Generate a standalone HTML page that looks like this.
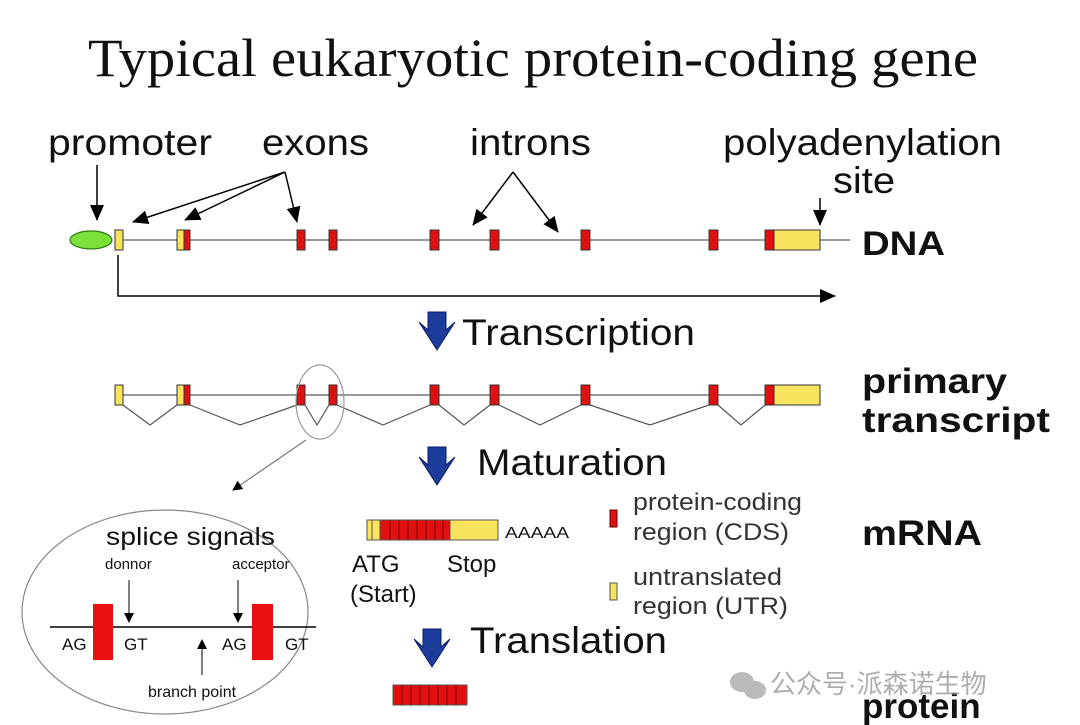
<!DOCTYPE html>
<html><head><meta charset="utf-8"><style>
body{margin:0;background:#fff;}
svg{display:block;}
text{font-family:"Liberation Sans",sans-serif;fill:#111;}
</style></head><body>
<svg width="1080" height="725" viewBox="0 0 1080 725">
<defs>
<marker id="a" markerWidth="10" markerHeight="10" refX="9" refY="5" orient="auto" markerUnits="userSpaceOnUse"><path d="M0,0 L10,5 L0,10 z" fill="#000"/></marker>
<marker id="b" markerWidth="16" markerHeight="14" refX="15" refY="7" orient="auto" markerUnits="userSpaceOnUse"><path d="M0,0 L16,7 L0,14 z" fill="#000"/></marker>
<g id="dn"><path d="M-9,-18 h18 v18 l9,-8 l-18,28 l-18,-28 l9,8 z" fill="#1c3c9c" stroke="#0a1d66" stroke-width="1"/></g>
</defs>
<text x="88" y="76" textLength="890" lengthAdjust="spacingAndGlyphs" style="font-family:'Liberation Serif',serif;font-size:54px">Typical eukaryotic protein-coding gene</text>
<text x="48" y="155" textLength="164" lengthAdjust="spacingAndGlyphs" style="font-size:37px">promoter</text>
<text x="262" y="155" textLength="107" lengthAdjust="spacingAndGlyphs" style="font-size:37px">exons</text>
<text x="470" y="155" textLength="121" lengthAdjust="spacingAndGlyphs" style="font-size:37px">introns</text>
<text x="723" y="155" textLength="279" lengthAdjust="spacingAndGlyphs" style="font-size:37px">polyadenylation</text>
<text x="833" y="193" textLength="62" lengthAdjust="spacingAndGlyphs" style="font-size:37px">site</text>
<g stroke="#000" stroke-width="1.5" fill="none">
<line x1="97" y1="165" x2="97" y2="220" marker-end="url(#b)"/>
<line x1="285" y1="172" x2="133" y2="222" marker-end="url(#b)"/>
<line x1="285" y1="172" x2="185" y2="220" marker-end="url(#b)"/>
<line x1="285" y1="172" x2="297" y2="222" marker-end="url(#b)"/>
<line x1="513" y1="172" x2="473" y2="225" marker-end="url(#b)"/>
<line x1="513" y1="172" x2="558" y2="232" marker-end="url(#b)"/>
<line x1="820" y1="198" x2="820" y2="225" marker-end="url(#b)"/>
</g>
<line x1="118" y1="240" x2="850" y2="240" stroke="#777" stroke-width="1.5"/>
<ellipse cx="91" cy="240" rx="21" ry="9" fill="#7be03a" stroke="#2f7a10" stroke-width="1.2"/>
<g stroke="#333" stroke-width="1">
<rect x="115" y="230" width="8" height="20" fill="#f7e35c"/>
<rect x="177" y="230" width="7" height="20" fill="#f7e35c"/>
<rect x="184" y="230" width="6" height="20" fill="#e01010"/>
<rect x="297" y="230" width="8" height="20" fill="#e01010"/>
<rect x="329" y="230" width="8" height="20" fill="#e01010"/>
<rect x="430" y="230" width="9" height="20" fill="#e01010"/>
<rect x="490" y="230" width="9" height="20" fill="#e01010"/>
<rect x="581" y="230" width="9" height="20" fill="#e01010"/>
<rect x="709" y="230" width="9" height="20" fill="#e01010"/>
<rect x="765" y="230" width="9" height="20" fill="#e01010"/>
<rect x="774" y="230" width="46" height="20" fill="#f7e35c"/>
</g>
<text x="862" y="255" textLength="83" lengthAdjust="spacingAndGlyphs" style="font-size:34px;font-weight:bold">DNA</text>
<polyline points="118,255 118,296 835,296" fill="none" stroke="#000" stroke-width="1.5" marker-end="url(#b)"/>
<use href="#dn" x="437" y="330"/>
<text x="462" y="345" textLength="233" lengthAdjust="spacingAndGlyphs" style="font-size:37px">Transcription</text>
<line x1="118" y1="395" x2="820" y2="395" stroke="#777" stroke-width="1.5"/>
<g fill="none" stroke="#555" stroke-width="1.2">
<polyline points="123,405 150,425 177,405"/>
<polyline points="190,405 240,425 297,405"/>
<polyline points="305,405 317,425 329,405"/>
<polyline points="337,405 383,425 430,405"/>
<polyline points="439,405 464,425 490,405"/>
<polyline points="499,405 540,425 581,405"/>
<polyline points="590,405 650,425 709,405"/>
<polyline points="718,405 741,425 765,405"/>
</g>
<g stroke="#333" stroke-width="1">
<rect x="115" y="385" width="8" height="20" fill="#f7e35c"/>
<rect x="177" y="385" width="7" height="20" fill="#f7e35c"/>
<rect x="184" y="385" width="6" height="20" fill="#e01010"/>
<rect x="297" y="385" width="8" height="20" fill="#e01010"/>
<rect x="329" y="385" width="8" height="20" fill="#e01010"/>
<rect x="430" y="385" width="9" height="20" fill="#e01010"/>
<rect x="490" y="385" width="9" height="20" fill="#e01010"/>
<rect x="581" y="385" width="9" height="20" fill="#e01010"/>
<rect x="709" y="385" width="9" height="20" fill="#e01010"/>
<rect x="765" y="385" width="9" height="20" fill="#e01010"/>
<rect x="774" y="385" width="46" height="20" fill="#f7e35c"/>
</g>
<ellipse cx="320" cy="402" rx="24" ry="37" fill="none" stroke="#999" stroke-width="1.2"/>
<line x1="306" y1="440" x2="233" y2="490" stroke="#777" stroke-width="1.2" marker-end="url(#a)"/>
<text x="862" y="393" textLength="145" lengthAdjust="spacingAndGlyphs" style="font-size:35px;font-weight:bold">primary</text>
<text x="862" y="432" textLength="188" lengthAdjust="spacingAndGlyphs" style="font-size:35px;font-weight:bold">transcript</text>
<use href="#dn" x="437" y="465"/>
<text x="477" y="475" textLength="190" lengthAdjust="spacingAndGlyphs" style="font-size:37px">Maturation</text>
<ellipse cx="165" cy="612" rx="143" ry="102" fill="none" stroke="#888" stroke-width="1.2"/>
<text x="106" y="545" textLength="169" lengthAdjust="spacingAndGlyphs" style="font-size:25px">splice signals</text>
<text x="105" y="569" style="font-size:15px">donnor</text>
<text x="232" y="569" style="font-size:15px">acceptor</text>
<line x1="129" y1="580" x2="129" y2="622" stroke="#000" marker-end="url(#a)"/>
<line x1="238" y1="580" x2="238" y2="622" stroke="#000" marker-end="url(#a)"/>
<line x1="50" y1="627" x2="316" y2="627" stroke="#000" stroke-width="1.5"/>
<rect x="93" y="604" width="20" height="56" fill="#e81010"/>
<rect x="252" y="604" width="21" height="56" fill="#e81010"/>
<text x="62" y="650" style="font-size:17px">AG</text>
<text x="124" y="650" style="font-size:17px">GT</text>
<text x="222" y="650" style="font-size:17px">AG</text>
<text x="285" y="650" style="font-size:17px">GT</text>
<line x1="202" y1="675" x2="202" y2="640" stroke="#000" marker-end="url(#a)"/>
<text x="148" y="697" style="font-size:16px">branch point</text>
<rect x="367" y="520" width="131" height="20" fill="#f7e35c" stroke="#555"/>
<line x1="372" y1="520" x2="372" y2="540" stroke="#555"/>
<rect x="380" y="520" width="70" height="20" fill="#e01010" stroke="#555"/>
<g stroke="#700" stroke-width="1"><line x1="390" y1="520" x2="390" y2="540"/><line x1="399" y1="520" x2="399" y2="540"/><line x1="408" y1="520" x2="408" y2="540"/><line x1="417" y1="520" x2="417" y2="540"/><line x1="426" y1="520" x2="426" y2="540"/><line x1="435" y1="520" x2="435" y2="540"/><line x1="443" y1="520" x2="443" y2="540"/></g>
<text x="505" y="538" textLength="64" lengthAdjust="spacingAndGlyphs" style="font-size:16px">AAAAA</text>
<text x="352" y="572" style="font-size:24px">ATG</text>
<text x="447" y="572" style="font-size:24px">Stop</text>
<text x="350" y="602" style="font-size:24px">(Start)</text>
<rect x="610" y="510" width="7" height="17" fill="#e01010" stroke="#600"/>
<text x="633" y="510" textLength="169" lengthAdjust="spacingAndGlyphs" style="font-size:24px;fill:#333">protein-coding</text>
<text x="633" y="540" textLength="156" lengthAdjust="spacingAndGlyphs" style="font-size:24px;fill:#333">region (CDS)</text>
<rect x="610" y="583" width="7" height="17" fill="#f7e35c" stroke="#555"/>
<text x="633" y="585" textLength="149" lengthAdjust="spacingAndGlyphs" style="font-size:24px;fill:#333">untranslated</text>
<text x="633" y="614" textLength="155" lengthAdjust="spacingAndGlyphs" style="font-size:24px;fill:#333">region (UTR)</text>
<text x="862" y="545" textLength="120" lengthAdjust="spacingAndGlyphs" style="font-size:35px;font-weight:bold">mRNA</text>
<use href="#dn" x="432" y="647"/>
<text x="470" y="653" textLength="197" lengthAdjust="spacingAndGlyphs" style="font-size:37px">Translation</text>
<rect x="393" y="685" width="74" height="20" fill="#e01010" stroke="#555"/>
<g stroke="#700"><line x1="402" y1="685" x2="402" y2="705"/><line x1="411" y1="685" x2="411" y2="705"/><line x1="420" y1="685" x2="420" y2="705"/><line x1="429" y1="685" x2="429" y2="705"/><line x1="438" y1="685" x2="438" y2="705"/><line x1="447" y1="685" x2="447" y2="705"/><line x1="456" y1="685" x2="456" y2="705"/></g>
<text x="862" y="718" style="font-size:35px;font-weight:bold">protein</text>
<g fill="#aaa" opacity="0.8"><ellipse cx="742" cy="682" rx="12" ry="10"/><ellipse cx="755" cy="690" rx="11" ry="9"/></g>
<text x="770" y="693" style="font-family:'Liberation Sans','Noto Sans CJK SC',sans-serif;font-size:26px;fill:#999;opacity:0.8">公众号·派森诺生物</text>
</svg>
</body></html>
